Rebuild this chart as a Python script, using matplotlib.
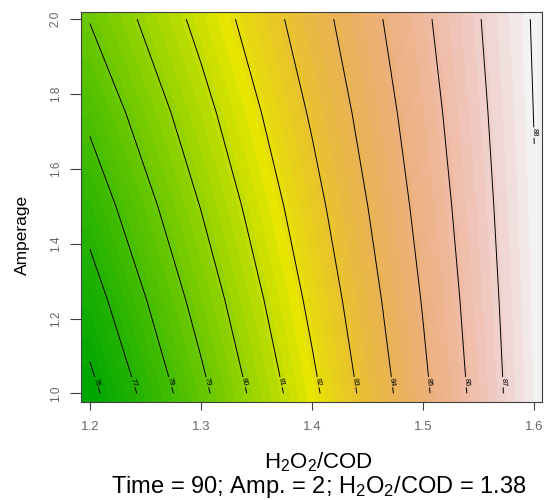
import colorsys
import numpy as np
import matplotlib
matplotlib.use("Agg")
import matplotlib.pyplot as plt
from matplotlib.colors import ListedColormap

# === data ===
h2o2_cod = [1.2, 1.3, 1.4, 1.5, 1.6]
amperage = [1.0, 1.25, 1.5, 1.75, 2.0]
# predicted removal, one row per amperage value
response = [
    [75.72, 78.75, 81.78, 84.81, 87.84],
    [76.55, 79.39, 82.23, 85.06, 87.90],
    [77.38, 80.03, 82.67, 85.32, 87.96],
    [78.21, 80.66, 83.12, 85.57, 88.02],
    [79.04, 81.30, 83.56, 85.82, 88.08],
]
contour_levels = list(range(76, 89))
x_ticks = [1.2, 1.3, 1.4, 1.5, 1.6]
y_ticks = [1.0, 1.2, 1.4, 1.6, 1.8, 2.0]
x_label = "H$_2$O$_2$/COD"
y_label = "Amperage"
subtitle = "Time = 90; Amp. = 2; H$_2$O$_2$/COD = 1.38"

plt.rcParams["font.family"] = ["Liberation Sans", "DejaVu Sans"]
plt.rcParams["mathtext.fontset"] = "custom"
plt.rcParams["mathtext.rm"] = "Liberation Sans"
plt.rcParams["mathtext.default"] = "regular"


def terrain_colors(n):
    # same recipe as R's terrain.colors()
    k = n // 2
    h = np.r_[np.linspace(4 / 12, 2 / 12, k), np.linspace(2 / 12, 0, n - k + 1)[1:]]
    s = np.r_[np.linspace(1, 1, k), np.linspace(1, 0, n - k + 1)[1:]]
    v = np.r_[np.linspace(0.65, 0.9, k), np.linspace(0.9, 0.95, n - k + 1)[1:]]
    return [colorsys.hsv_to_rgb(a, b, c) for a, b, c in zip(h, s, v)]


x = np.array(h2o2_cod)
y = np.array(amperage)
z = np.array(response)

XLIM = (1.192, 1.607)
YLIM = (0.977, 2.019)

fig = plt.figure(figsize=(5.46, 5.0), dpi=100)
ax = fig.add_axes([81 / 546, 98 / 500, 461 / 546, 390 / 500])

# image: edge values stretched out to the frame like R's half cells
xe = np.r_[XLIM[0], x, XLIM[1]]
ye = np.r_[YLIM[0], y, YLIM[1]]
ze = np.pad(z, 1, mode="edge")
cmap = ListedColormap(terrain_colors(50))
fill_levels = np.linspace(z.min(), z.max(), 51)
ax.contourf(xe, ye, ze, levels=fill_levels, cmap=cmap, antialiased=False)

cs = ax.contour(x, y, z, levels=contour_levels, colors="black", linewidths=0.7)

# put each label a little above the low end of its line
label_pos = []
for path in cs.get_paths():
    v = path.vertices
    if len(v) == 0:
        continue
    order = np.argsort(v[:, 1])
    target = v[order[0], 1] + 0.03
    label_pos.append((np.interp(target, v[order, 1], v[order, 0]), target))
ax.clabel(cs, fmt="%d", fontsize=5.5, inline=True, inline_spacing=1, manual=label_pos)

ax.set_xlim(*XLIM)
ax.set_ylim(*YLIM)
ax.set_xticks(x_ticks)
ax.set_xticklabels([f"{t:.1f}" for t in x_ticks])
ax.set_yticks(y_ticks)
ax.set_yticklabels([f"{t:.1f}" for t in y_ticks], rotation=90, va="center")
ax.tick_params(axis="x", length=6, width=0.8, color="#404040", labelsize=9.5,
               labelcolor="#666666", pad=7.5)
ax.tick_params(axis="y", length=8, width=0.8, color="#404040", labelsize=8.5,
               labelcolor="#666666", pad=6)
for sp in ax.spines.values():
    sp.set_color("#404040")
    sp.set_linewidth(0.8)

fig.text(22 / 546, 1 - 235 / 500, y_label, rotation=90, fontsize=12.5,
         ha="center", va="center")
fig.text(318 / 546, 1 - 462 / 500, x_label, fontsize=16, ha="center", va="center")
fig.text(319 / 546, 1 - 487 / 500, subtitle, fontsize=17, ha="center", va="center")

fig.savefig("out.png", dpi=100)
